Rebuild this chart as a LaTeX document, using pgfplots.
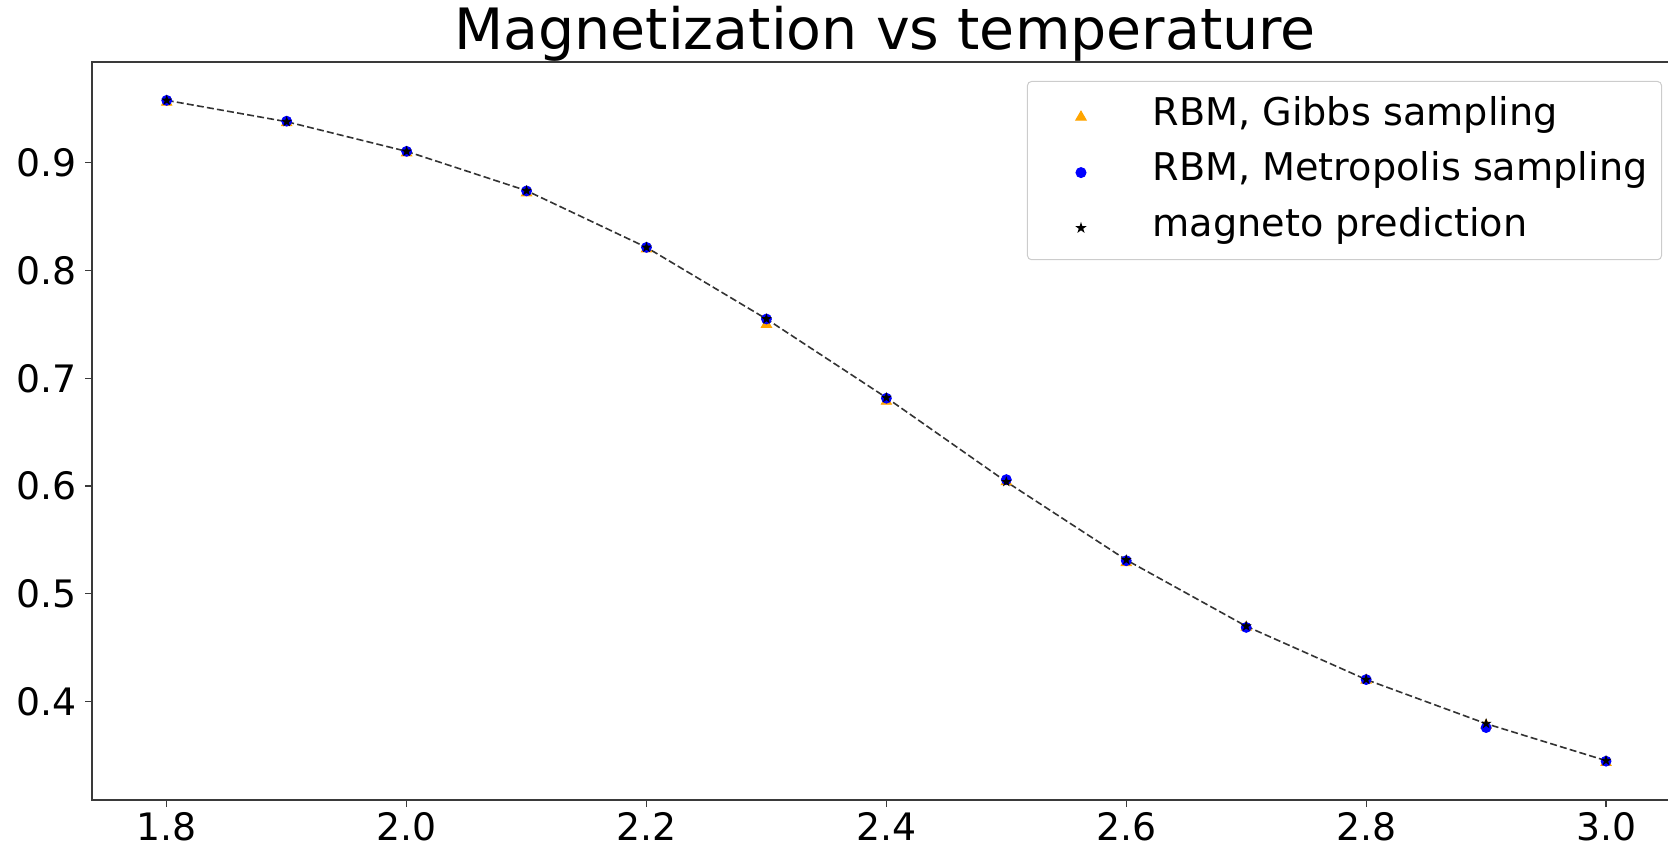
\documentclass[border=0pt]{standalone}
\usepackage{fontspec}
\setmainfont{DejaVu Sans}
\usepackage{pgfplots}
\pgfplotsset{compat=1.18}
\definecolor{mplorange}{HTML}{FFA500}
\definecolor{spine}{HTML}{3A3A3A}

\pgfdeclareplotmark{fstar}{%
  \pgfpathmoveto{\pgfpointpolar{90}{\pgfplotmarksize}}%
  \pgfpathlineto{\pgfpointpolar{126}{0.382*\pgfplotmarksize}}%
  \pgfpathlineto{\pgfpointpolar{162}{\pgfplotmarksize}}%
  \pgfpathlineto{\pgfpointpolar{198}{0.382*\pgfplotmarksize}}%
  \pgfpathlineto{\pgfpointpolar{234}{\pgfplotmarksize}}%
  \pgfpathlineto{\pgfpointpolar{270}{0.382*\pgfplotmarksize}}%
  \pgfpathlineto{\pgfpointpolar{306}{\pgfplotmarksize}}%
  \pgfpathlineto{\pgfpointpolar{342}{0.382*\pgfplotmarksize}}%
  \pgfpathlineto{\pgfpointpolar{18}{\pgfplotmarksize}}%
  \pgfpathlineto{\pgfpointpolar{54}{0.382*\pgfplotmarksize}}%
  \pgfpathclose
  \pgfusepathqfillstroke
}

\pgfplotstableread{
T     m
1.8   0.956
1.9   0.937
2.0   0.909
2.1   0.872
2.2   0.820
2.3   0.750
2.4   0.6786
2.5   0.604
2.6   0.529
2.7   0.469
2.8   0.420
2.9   0.378
3.0   0.3435
}\gibbs

\pgfplotstableread{
T     m
1.8   0.9578
1.9   0.9385
2.0   0.9105
2.1   0.8738
2.2   0.8214
2.3   0.755
2.4   0.6815
2.5   0.606
2.6   0.5308
2.7   0.4689
2.8   0.4205
2.9   0.376
3.0   0.3448
}\metro

\pgfplotstableread{
T     m
1.8   0.9578
1.9   0.938
2.0   0.9105
2.1   0.874
2.2   0.8214
2.3   0.755
2.4   0.682
2.5   0.604
2.6   0.5315
2.7   0.470
2.8   0.4205
2.9   0.3796
3.0   0.3453
}\magneto

\begin{document}
\begin{tikzpicture}
\begin{axis}[
  at={(0pt,0pt)}, anchor=south west,
  scale only axis, width=793pt, height=369pt,
  xmin=1.7377, xmax=3.06, ymin=0.3088, ymax=0.9934,
  xtick={1.8,2.0,2.2,2.4,2.6,2.8,3.0},
  ytick={0.4,0.5,0.6,0.7,0.8,0.9},
  /pgf/number format/assume math mode=true,
  /pgf/number format/fixed,
  /pgf/number format/fixed zerofill,
  /pgf/number format/precision=1,
  ticklabel style={font=\fontsize{18.9}{22}\selectfont, inner sep=0pt},
  xticklabel style={yshift=-2.5pt},
  yticklabel style={xshift=-4pt},
  tick align=outside, major tick length=3.5pt,
  xtick pos=left, ytick pos=left,
  tick style={spine, line width=0.6pt},
  axis line style={spine, line width=0.6pt},
  title={Magnetization vs temperature},
  title style={at={(0.5,1)}, anchor=base, yshift=0pt, font=\fontsize{28.5}{33}\selectfont, inner sep=0pt},
  legend style={
    at={(rel axis cs:1,1)}, anchor=north east, xshift=-8pt, yshift=-9.5pt,
    draw=black!20, line width=0.5pt, rounded corners=2pt, fill=white,
    font=\fontsize{19.1}{22}\selectfont,
    inner xsep=7pt, inner ysep=3pt,
    row sep=0pt, column sep=15pt,
    nodes={inner sep=0pt, text height=19pt, text depth=8.7pt},
    cells={anchor=west},
  },
  legend image code/.code={\path (0pt,0pt) (40pt,0pt); \draw[#1] plot coordinates {(19.5pt,-1pt)};},
]
\addplot[forget plot, black!80, line width=0.8pt, dash pattern=on 3.5pt off 1.6pt] table[x=T, y=m] {\magneto};
\addplot[only marks, mark=triangle*, mark size=3pt, color=mplorange] table[x=T, y=m] {\gibbs};
\addlegendentry{RBM, Gibbs sampling}
\addplot[only marks, mark=*, mark size=2.5pt, color=blue] table[x=T, y=m] {\metro};
\addlegendentry{RBM, Metropolis sampling}
\addplot[only marks, mark=fstar, mark size=2.2pt, color=black] table[x=T, y=m] {\magneto};
\addlegendentry{magneto prediction}
\end{axis}
\pgfresetboundingbox
\useasboundingbox (-46pt,-25pt) rectangle (788pt,400pt);
\end{tikzpicture}
\end{document}
